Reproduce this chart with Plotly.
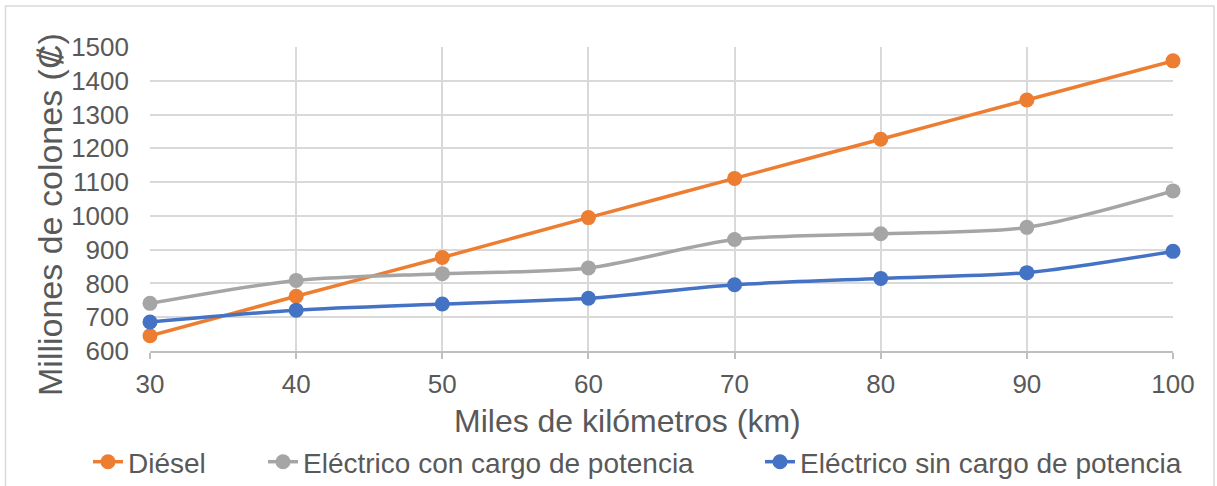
import plotly.graph_objects as go

# Distance driven (thousands of km)
km = [30, 40, 50, 60, 70, 80, 90, 100]

# Total cost in millions of colones
diesel = [645, 762, 877, 995, 1111, 1227, 1343, 1459]
electrico_con = [741, 809, 829, 846, 930, 947, 966, 1074]
electrico_sin = [686, 721, 739, 756, 796, 815, 832, 895]

series = [
    ("Diésel", diesel, "#ED7D31", "legend", 88),
    ("Eléctrico con cargo de potencia", electrico_con, "#A5A5A5", "legend2", 263),
    ("Eléctrico sin cargo de potencia", electrico_sin, "#4472C4", "legend3", 760),
]

FONT = "Liberation Sans, Arial, sans-serif"
TEXT = "#595959"
GRID = "#d9d9d9"
L, R, T, B = 150, 44, 47, 135
W, H = 1217, 486
PW, PH = W - L - R, H - T - B


def px_x(px):
    return (px - L) / PW


def px_y(py):
    return (H - B - py) / PH


fig = go.Figure()
legends = {}
for name, vals, color, leg, left in series:
    fig.add_trace(go.Scatter(
        x=km, y=vals, name=name, mode="lines+markers", legend=leg,
        line=dict(color=color, width=3.5, shape="spline", smoothing=0.8),
        marker=dict(color=color, size=15),
        cliponaxis=False,
    ))
    legends[leg] = dict(x=px_x(left), xanchor="left", y=px_y(462), yanchor="middle",
                        orientation="h", font=dict(size=28, color=TEXT),
                        bgcolor="rgba(0,0,0,0)", borderwidth=0)

# chart-area border
fig.add_shape(type="rect", xref="paper", yref="paper",
              x0=px_x(5.5), x1=px_x(1214), y0=px_y(495), y1=px_y(6),
              line=dict(color=GRID, width=1.5), layer="below")

fig.update_layout(
    width=W, height=H,
    margin=dict(l=L, r=R, t=T, b=B, autoexpand=False),
    paper_bgcolor="white", plot_bgcolor="white",
    font=dict(family=FONT, color=TEXT),
    showlegend=True,
    xaxis=dict(range=[30, 100], tickvals=km, showgrid=True, gridcolor=GRID, gridwidth=1.5,
               showline=True, linecolor="#bfbfbf", linewidth=1.5,
               ticks="outside", ticklen=6, tickcolor="#bfbfbf", tickwidth=1.5,
               ticklabelstandoff=3,
               tickfont=dict(size=26, color=TEXT), zeroline=False),
    yaxis=dict(range=[600, 1500], dtick=100, showgrid=True, gridcolor=GRID, gridwidth=1.5,
               showline=False, ticks="", ticklabelstandoff=20,
               tickfont=dict(size=26, color=TEXT), zeroline=False),
    annotations=[
        dict(text="Miles de kilómetros (km)", xref="paper", yref="paper",
             x=px_x(627), y=px_y(421), xanchor="center", yanchor="middle",
             showarrow=False, font=dict(size=32, color=TEXT)),
        dict(text="Milliones de colones (₡)", xref="paper", yref="paper",
             x=px_x(50), y=px_y(215), xanchor="center", yanchor="middle", textangle=-90,
             showarrow=False, font=dict(size=34, color=TEXT)),
    ],
    **{k: v for k, v in legends.items()},
)

fig.write_html("out.html")
